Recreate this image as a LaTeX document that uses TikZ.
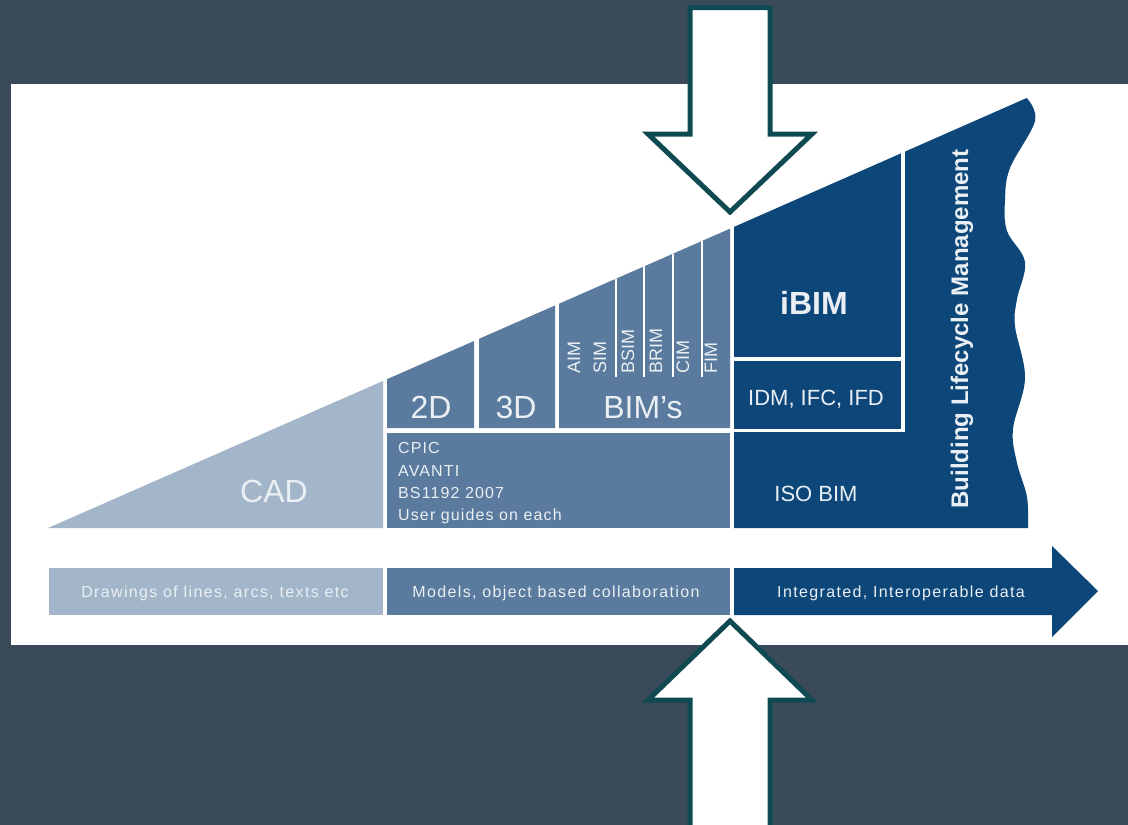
\documentclass[tikz,border=0pt]{standalone}
\usepackage{fontspec}
\setmainfont{Liberation Sans}
\newfontfamily\spaced[LetterSpace=7]{Liberation Sans}
\newfontfamily\barspaced[LetterSpace=8.5]{Liberation Sans}
\definecolor{bgdark}{RGB}{58,74,88}
\definecolor{cadlight}{RGB}{163,181,200}
\definecolor{midblue}{RGB}{90,123,157}
\definecolor{darkblue}{RGB}{13,71,121}
\definecolor{arrowline}{RGB}{15,74,82}
\definecolor{lighttext}{RGB}{234,239,244}
\newcommand\wy[1]{528-0.4389*(#1-48)}
\begin{document}
\begin{tikzpicture}[x=1pt,y=-1pt,
  lbl/.style={inner sep=0pt, text=lighttext},
  biglbl/.style={lbl, anchor=base, font=\fontsize{32}{38}\selectfont},
  vlbl/.style={lbl, rotate=90, anchor=base west, font=\fontsize{18}{22}\selectfont},
  listlbl/.style={lbl, anchor=base west, font=\spaced\fontsize{16}{20}\selectfont},
  barlbl/.style={lbl, anchor=base, font=\barspaced\fontsize{16}{20}\selectfont},
  midlbl/.style={lbl, anchor=base, font=\fontsize{22}{26}\selectfont},
  sep/.style={white, line width=1.3pt},
  frameline/.style={white, line width=3.5pt},
  bigarrow/.style={draw=arrowline, fill=white, line width=5pt, line join=miter}]
\useasboundingbox (0,0) rectangle (1128,825);
% background and panel
\fill[bgdark] (0,0) rectangle (1128,825);
\fill[white] (11,84) rectangle (1128,645);
% CAD wedge
\fill[cadlight] (48,528) -- (383,528) -- (383,{\wy{383}}) -- cycle;
% 2D, 3D, BIM's
\fill[midblue] (387,428) -- (387,{\wy{387}}) -- (474,{\wy{474}}) -- (474,428) -- cycle;
\fill[midblue] (479,428) -- (479,{\wy{479}}) -- (555,{\wy{555}}) -- (555,428) -- cycle;
\fill[midblue] (559,428) -- (559,{\wy{559}}) -- (730,{\wy{730}}) -- (730,428) -- cycle;
\fill[midblue] (387,433) rectangle (730,528);
% dark region with wavy edge
\fill[darkblue] (734,528) -- (734,{\wy{734}}) -- plot[smooth, tension=0.6] coordinates {(1026.7,98) (1035,121) (1010,168) (1005,200) (1007,231) (1025,262) (1017,299) (1015,326) (1025,378) (1013,429) (1017,463) (1027,497) (1028,528)} -- cycle;
% white frame in dark region
\draw[frameline] (734,359) -- (903,359);
\draw[frameline] (734,430.5) -- (904.75,430.5);
\draw[frameline] (903,{\wy{903}-2}) -- (903,432);
% BIM separators
\foreach \sx in {616,644,673,702} \draw[sep] (\sx,{\wy{\sx}}) -- (\sx,377);
% labels
\node[biglbl] (cad) at (274,502) {CAD};
\node[biglbl] (twod) at (431,418) {2D};
\node[biglbl] (threed) at (516,418) {3D};
\node[biglbl] (bims) at (643,418) {BIM’s};
\node[vlbl] (aim) at (580,374) {AIM};
\node[vlbl] (sim) at (606,374) {SIM};
\node[vlbl] (bsim) at (634,374) {BSIM};
\node[vlbl] (brim) at (662,374) {BRIM};
\node[vlbl] (cim) at (689,374) {CIM};
\node[vlbl] (fim) at (717,374) {FIM};
\node[listlbl] (cpic) at (398,453) {CPIC};
\node[listlbl] (avanti) at (398,476) {AVANTI};
\node[listlbl] (bs) at (398,498) {BS1192 2007};
\node[listlbl] (guides) at (398,520) {User guides on each};
\node[lbl, anchor=base, font=\bfseries\fontsize{32}{38}\selectfont] (ibim) at (814,314) {iBIM};
\node[midlbl] (idm) at (816,405) {IDM, IFC, IFD};
\node[midlbl] (iso) at (816,501) {ISO BIM};
\node[lbl, rotate=90, font=\bfseries\fontsize{24}{28}\selectfont] (blm) at (962,329) {Building Lifecycle Management};
% bottom bar
\fill[cadlight] (49,568) rectangle (383,615);
\fill[midblue] (387,568) rectangle (730,615);
\fill[darkblue] (734,568) -- (1052,568) -- (1052,546) -- (1098,591) -- (1052,637) -- (1052,615) -- (734,615) -- cycle;
\node[barlbl] (drawings) at (215,597) {Drawings of lines, arcs, texts etc};
\node[barlbl] (models) at (556,597) {Models, object based collaboration};
\node[barlbl] (integrated) at (901,597) {Integrated, Interoperable data};
% big outline arrows
\draw[bigarrow] (690,7.5) -- (770,7.5) -- (770,134) -- (812,134) -- (730,212) -- (648,134) -- (690,134) -- cycle;
\draw[bigarrow] (690,840) -- (690,700) -- (648,700) -- (730,621) -- (812,700) -- (770,700) -- (770,840) -- cycle;
\end{tikzpicture}
\end{document}
